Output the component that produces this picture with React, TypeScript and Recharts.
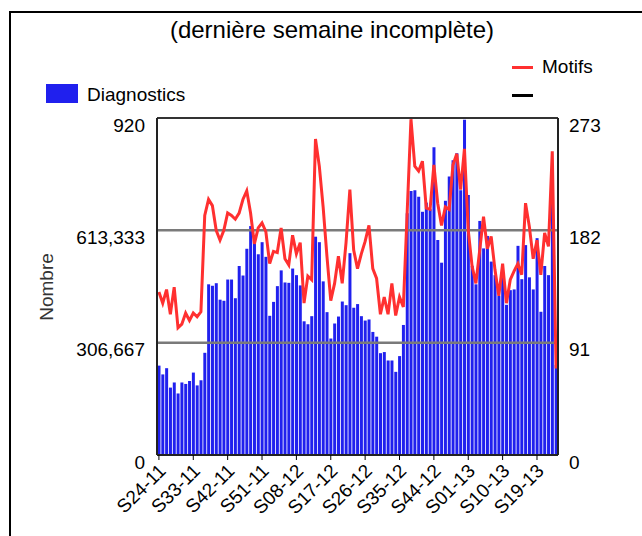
import React from 'react';
import { ComposedChart, Bar, Line, XAxis, YAxis, ReferenceLine } from 'recharts';

const FONT = '"Liberation Sans", Arial, Helvetica, sans-serif';

// semaines (S24-11 .. S24-13)
const weeks = [
  'S24-11', 'S25-11', 'S26-11', 'S27-11', 'S28-11', 'S29-11', 'S30-11', 'S31-11', 'S32-11', 'S33-11',
  'S34-11', 'S35-11', 'S36-11', 'S37-11', 'S38-11', 'S39-11', 'S40-11', 'S41-11', 'S42-11', 'S43-11',
  'S44-11', 'S45-11', 'S46-11', 'S47-11', 'S48-11', 'S49-11', 'S50-11', 'S51-11', 'S52-11',
  'S01-12', 'S02-12', 'S03-12', 'S04-12', 'S05-12', 'S06-12', 'S07-12', 'S08-12', 'S09-12', 'S10-12',
  'S11-12', 'S12-12', 'S13-12', 'S14-12', 'S15-12', 'S16-12', 'S17-12', 'S18-12', 'S19-12', 'S20-12',
  'S21-12', 'S22-12', 'S23-12', 'S24-12', 'S25-12', 'S26-12', 'S27-12', 'S28-12', 'S29-12', 'S30-12',
  'S31-12', 'S32-12', 'S33-12', 'S34-12', 'S35-12', 'S36-12', 'S37-12', 'S38-12', 'S39-12', 'S40-12',
  'S41-12', 'S42-12', 'S43-12', 'S44-12', 'S45-12', 'S46-12', 'S47-12', 'S48-12', 'S49-12', 'S50-12',
  'S51-12', 'S52-12',
  'S01-13', 'S02-13', 'S03-13', 'S04-13', 'S05-13', 'S06-13', 'S07-13', 'S08-13', 'S09-13', 'S10-13',
  'S11-13', 'S12-13', 'S13-13', 'S14-13', 'S15-13', 'S16-13', 'S17-13', 'S18-13', 'S19-13', 'S20-13',
  'S21-13', 'S22-13', 'S23-13', 'S24-13',
];

// Diagnostics (axe de gauche)
const diagnostics = [
  244, 220, 237, 184, 198, 168, 198, 194, 202, 225,
  190, 204, 279, 466, 462, 469, 424, 421, 479, 479,
  428, 516, 490, 563, 625, 596, 548, 581, 541, 380,
  418, 461, 504, 471, 470, 509, 491, 463, 365, 357,
  379, 596, 581, 474, 390, 318, 359, 378, 419, 409,
  551, 402, 412, 379, 367, 370, 336, 323, 278, 281,
  258, 258, 227, 270, 355, 660, 721, 723, 705, 664,
  689, 671, 840, 587, 525, 694, 760, 805, 824, 723,
  915, 710, 516, 466, 639, 564, 598, 528, 491, 434,
  487, 410, 450, 452, 571, 480, 573, 485, 452, 592,
  391, 516, 491, 687, 246,
];

// Motifs (axe de droite)
const motifs = [
  132, 123, 134, 114, 136, 103, 106, 115, 109, 115, 112, 116,
  194, 207, 202, 182, 174, 182, 196, 194, 191, 196, 207, 214, 196, 171, 184,
  188, 181, 155, 165, 164, 184, 159, 154, 178, 163, 172, 123, 145, 142, 256,
  234, 201, 161, 125, 139, 161, 139, 172, 215, 166, 151, 163,
  173, 186, 151, 143, 114, 128, 114, 139, 113, 128, 120, 196,
  272, 234, 230, 238, 200, 199, 235, 204, 186, 201, 199, 235, 244, 215, 248,
  182, 153, 139, 166, 193, 167, 177, 150, 129, 155, 123, 142, 149, 155, 146,
  204, 185, 159, 174, 146, 180, 169, 246, 70,
];

const leftTicks = [0, 306.667, 613.333, 920];
const rightTicks = [0, 91, 182, 273];

const BLUE = '#2020ee';
const RED = '#ff3030';

const fmt = (v: number) => String(v).replace('.', ',');

const XTick = (props: any) => {
  const { x, y, payload } = props;
  const ax = x + 8;
  const ay = y + 10;
  return (
    <text
      x={ax}
      y={ay}
      textAnchor="end"
      transform={`rotate(-45 ${ax} ${ay})`}
      fontSize={19}
      fontFamily={FONT}
      fill="#000"
    >
      {payload.value}
    </text>
  );
};

const LeftTick = (props: any) => {
  const { x, y, payload } = props;
  return (
    <text x={x} y={y + 7} dy="0.355em" textAnchor="end" fontSize={19} fontFamily={FONT} fill="#000">
      {fmt(payload.value)}
    </text>
  );
};

const RightTick = (props: any) => {
  const { x, y, payload } = props;
  return (
    <text x={x} y={y + 7} dy="0.355em" textAnchor="start" fontSize={19} fontFamily={FONT} fill="#000">
      {payload.value}
    </text>
  );
};

const App = () => {
  const data = weeks.map((w, i) => ({ week: w, diagnostics: diagnostics[i], motifs: motifs[i] }));

  return (
    <div
      style={{
        position: 'fixed',
        left: 0,
        top: 0,
        width: 642,
        height: 536,
        overflow: 'hidden',
        background: '#fff',
        fontFamily: FONT,
      }}
    >
      <div
        style={{
          position: 'absolute',
          left: 9,
          top: 11,
          width: 700,
          height: 600,
          border: '2px solid #000',
        }}
      />
      <div style={{ position: 'absolute', left: 0, top: 0 }}>
        <ComposedChart
          width={642}
          height={536}
          data={data}
          margin={{ top: 118, right: 0, bottom: 0, left: 0 }}
          barCategoryGap="13%"
        >
          <XAxis
            dataKey="week"
            interval={8}
            height={81}
            tick={<XTick />}
            tickSize={5}
            tickLine={{ stroke: '#000' }}
            axisLine={{ stroke: '#222', strokeWidth: 2 }}
          />
          <YAxis
            yAxisId="left"
            orientation="left"
            width={157}
            domain={[0, 920]}
            ticks={leftTicks}
            interval={0}
            tick={<LeftTick />}
            tickLine={false}
            tickSize={10}
            tickMargin={2}
            axisLine={{ stroke: '#222', strokeWidth: 2 }}
          />
          <YAxis
            yAxisId="right"
            orientation="right"
            width={84}
            domain={[0, 273]}
            ticks={rightTicks}
            interval={0}
            tick={<RightTick />}
            tickLine={false}
            tickSize={9}
            tickMargin={2}
            axisLine={{ stroke: '#222', strokeWidth: 2 }}
          />
          <Bar yAxisId="left" dataKey="diagnostics" fill={BLUE} isAnimationActive={false} />
          {leftTicks.slice(1, -1).map((t) => (
            <ReferenceLine key={t} yAxisId="left" y={t} stroke="#7a7a7a" strokeWidth={2.5} />
          ))}
          <ReferenceLine yAxisId="left" y={920} stroke="#333" strokeWidth={2} />
          <Line
            yAxisId="right"
            type="linear"
            dataKey="motifs"
            stroke={RED}
            strokeWidth={3}
            dot={false}
            isAnimationActive={false}
          />
        </ComposedChart>
      </div>

      <div
        style={{
          position: 'absolute',
          left: 0,
          width: 664,
          top: 16,
          textAlign: 'center',
          fontSize: 24,
          lineHeight: '28px',
          color: '#000',
        }}
      >
        (dernière semaine incomplète)
      </div>

      <div style={{ position: 'absolute', left: 46, top: 84, width: 32, height: 19, background: BLUE }} />
      <div style={{ position: 'absolute', left: 87, top: 84, fontSize: 19, lineHeight: '22px', color: '#000' }}>
        Diagnostics
      </div>
      <div style={{ position: 'absolute', left: 512, top: 66, width: 21, height: 3, background: RED }} />
      <div style={{ position: 'absolute', left: 542, top: 56, fontSize: 19, lineHeight: '22px', color: '#000' }}>
        Motifs
      </div>
      <div style={{ position: 'absolute', left: 512, top: 94, width: 21, height: 3, background: '#000' }} />

      <div
        style={{
          position: 'absolute',
          left: 47,
          top: 287,
          transform: 'translate(-50%, -50%) rotate(-90deg)',
          fontSize: 19,
          color: '#333',
          whiteSpace: 'nowrap',
        }}
      >
        Nombre
      </div>
    </div>
  );
};

export default App;
